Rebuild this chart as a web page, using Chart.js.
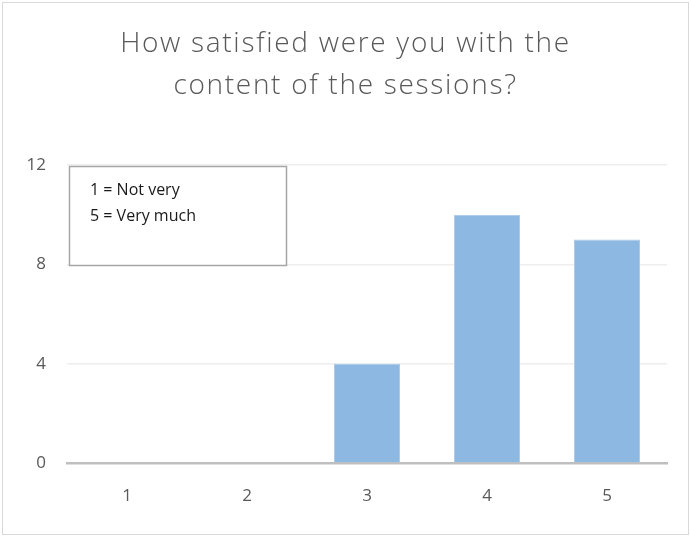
<!DOCTYPE html>
<html>
<head>
<meta charset="utf-8">
<script src="https://cdn.jsdelivr.net/npm/chart.js@4"></script>
<style>
  html, body { margin: 0; padding: 0; background: #fff; }
  #wrap { width: 691px; height: 537px; position: relative; }
</style>
</head>
<body>
<div id="wrap"><canvas id="c" width="691" height="537"></canvas></div>
<script>
const categories = ['1', '2', '3', '4', '5'];
const responses = [0, 0, 4, 10, 9];
const yTicks = [0, 4, 8, 12];
const titleLines = ['How satisfied were you with the', 'content of the sessions?'];
const noteLines = ['1 = Not very', '5 = Very much'];

const FONT = '"Open Sans", Lato, sans-serif';

const decor = {
  id: 'decor',
  afterDraw(chart) {
    const ctx = chart.ctx;
    ctx.save();
    // outer chart border
    ctx.strokeStyle = '#d9d9d9';
    ctx.lineWidth = 1;
    ctx.strokeRect(2.5, 2.5, 686, 532);
    // note box
    ctx.fillStyle = '#ffffff';
    ctx.fillRect(69, 166, 217, 99);
    ctx.strokeStyle = '#a6a6a6';
    ctx.lineWidth = 1.5;
    ctx.strokeRect(69.5, 166.5, 217, 99);
    ctx.fillStyle = '#1a1a1a';
    ctx.font = '16px ' + FONT;
    ctx.textBaseline = 'middle';
    ctx.textAlign = 'left';
    noteLines.forEach((t, i) => ctx.fillText(t, 90, 190 + i * 26));
    ctx.restore();
  }
};

const chart = new Chart(document.getElementById('c'), {
  type: 'bar',
  data: {
    labels: categories,
    datasets: [{
      data: responses,
      backgroundColor: '#8db8e2',
      borderColor: '#a9cbec',
      borderWidth: 1,
      categoryPercentage: 1,
      barPercentage: 0.55
    }]
  },
  options: {
    responsive: false,
    animation: false,
    layout: { padding: { left: 24, right: 24, top: 0, bottom: 0 } },
    plugins: {
      legend: { display: false },
      tooltip: { enabled: false },
      title: {
        display: true,
        text: titleLines,
        color: '#595959',
        font: { family: FONT, size: 28, weight: '300', lineHeight: 1.5 },
        padding: { top: 23, bottom: 58 }
      }
    },
    scales: {
      x: {
        grid: { display: false, drawTicks: false },
        border: { display: true, color: '#bfbfbf', width: 2.5 },
        ticks: { color: '#595959', font: { family: FONT, size: 17 }, padding: 23 },
        afterFit(s) { s.height = 74; }
      },
      y: {
        min: 0,
        max: 12,
        afterBuildTicks(s) { s.ticks = yTicks.map(v => ({ value: v })); },
        grid: { color: '#eeeeee', lineWidth: 1.5, drawTicks: false },
        border: { display: false },
        ticks: { color: '#595959', font: { family: FONT, size: 17 }, padding: 21 },
        afterFit(s) { s.width = 43; }
      }
    }
  },
  plugins: [decor]
});

// widen title letter spacing to match the reference typeface
if (chart.titleBlock) {
  const tb = chart.titleBlock;
  const origDraw = tb.draw.bind(tb);
  tb.draw = function () {
    const ctx = chart.ctx;
    ctx.save();
    ctx.letterSpacing = '1.7px';
    origDraw();
    ctx.restore();
  };
  chart.draw();
}
</script>
</body>
</html>
